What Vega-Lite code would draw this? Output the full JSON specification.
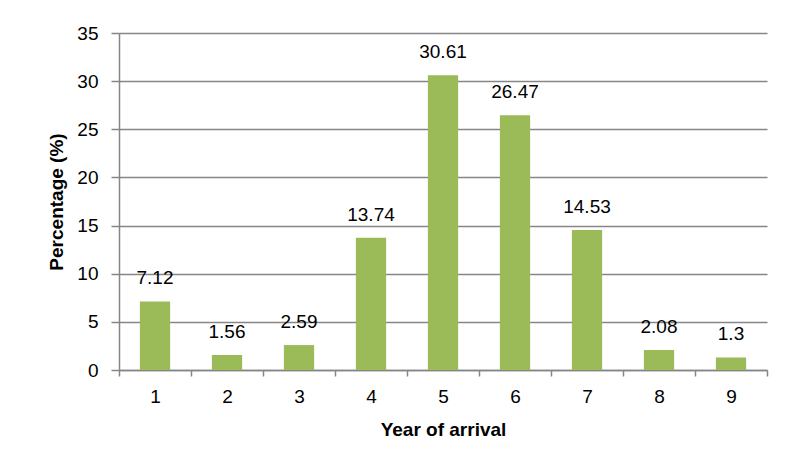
{
  "$schema": "https://vega.github.io/schema/vega-lite/v6.json",
  "autosize": "none",
  "width": 648,
  "height": 337,
  "padding": {"left": 119, "top": 33, "right": 25, "bottom": 100},
  "background": "white",
  "config": {
    "view": {"stroke": null},
    "font": "Liberation Sans, Arial, sans-serif"
  },
  "data": {
    "values": [
      {"year": "1", "pct": 7.12},
      {"year": "2", "pct": 1.56},
      {"year": "3", "pct": 2.59},
      {"year": "4", "pct": 13.74},
      {"year": "5", "pct": 30.61},
      {"year": "6", "pct": 26.47},
      {"year": "7", "pct": 14.53},
      {"year": "8", "pct": 2.08},
      {"year": "9", "pct": 1.3}
    ]
  },
  "encoding": {
    "x": {
      "field": "year",
      "type": "ordinal",
      "scale": {"paddingInner": 0, "paddingOuter": 0},
      "axis": {
        "title": "Year of arrival",
        "titleFontSize": 19,
        "titleFontWeight": "bold",
        "titleColor": "black",
        "titlePadding": 14,
        "labelAngle": 0,
        "labelFontSize": 19,
        "labelColor": "black",
        "labelPadding": 11,
        "tickBand": "extent",
        "tickColor": "#868686",
        "tickWidth": 1.5,
        "tickSize": 6,
        "domainColor": "#868686",
        "domainWidth": 1.5,
        "grid": false
      }
    },
    "y": {
      "field": "pct",
      "type": "quantitative",
      "scale": {"domain": [0, 35]},
      "axis": {
        "title": "Percentage (%)",
        "titleFontSize": 19,
        "titleFontWeight": "bold",
        "titleColor": "black",
        "titlePadding": 10,
        "values": [0, 5, 10, 15, 20, 25, 30, 35],
        "labelFontSize": 19,
        "labelColor": "black",
        "labelPadding": 13,
        "tickColor": "#868686",
        "tickWidth": 1.5,
        "tickSize": 8,
        "domainColor": "#868686",
        "domainWidth": 1.5,
        "grid": true,
        "gridColor": "#868686",
        "gridWidth": 1.5
      }
    }
  },
  "layer": [
    {
      "mark": {"type": "bar", "color": "#9BBB59", "width": {"band": 0.42}}
    },
    {
      "mark": {"type": "text", "baseline": "alphabetic", "dy": -17, "fontSize": 19, "color": "black"},
      "encoding": {"text": {"field": "pct", "type": "quantitative"}}
    }
  ]
}
